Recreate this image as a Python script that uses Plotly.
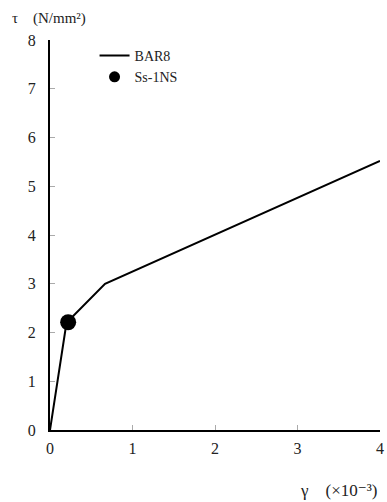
import plotly.graph_objects as go

# skeleton curve BAR8
bar8_gamma = [0, 0.2, 0.667, 4.0]
bar8_tau = [0, 2.2, 3.0, 5.52]

# response point Ss-1NS
ss_gamma = [0.22]
ss_tau = [2.21]

x_ticks = [0, 1, 2, 3, 4]
y_ticks = [0, 1, 2, 3, 4, 5, 6, 7, 8]

serif = "Liberation Serif, DejaVu Serif, serif"

fig = go.Figure()
fig.add_trace(go.Scatter(
    x=bar8_gamma, y=bar8_tau, mode='lines', name='BAR8',
    line=dict(color='black', width=2)))
fig.add_trace(go.Scatter(
    x=ss_gamma, y=ss_tau, mode='markers', name='Ss-1NS',
    marker=dict(color='black', size=16), showlegend=False))
# legend entry with the smaller marker used in the key
fig.add_trace(go.Scatter(
    x=[None], y=[None], mode='markers', name='Ss-1NS',
    marker=dict(color='black', size=11)))

fig.update_layout(
    width=387, height=502,
    margin=dict(l=50, r=7, t=40, b=72),
    plot_bgcolor='white', paper_bgcolor='white',
    font=dict(family=serif, size=16, color='#222'),
    showlegend=True,
    legend=dict(x=0.135, y=1.0, xanchor='left', yanchor='top',
                bgcolor='rgba(0,0,0,0)', tracegroupgap=0,
                font=dict(size=14), itemwidth=30),
    xaxis=dict(range=[0, 4], tickvals=x_ticks, showgrid=False, zeroline=False,
               showline=True, linecolor='black', linewidth=2,
               ticks='inside', ticklen=5, tickcolor='#aaa',
               ticklabelstandoff=3,
               automargin=False, ticklabeloverflow='allow'),
    yaxis=dict(range=[0, 8], tickvals=y_ticks, showgrid=False, zeroline=False,
               showline=True, linecolor='black', linewidth=2,
               ticks='inside', ticklen=5, tickcolor='#aaa',
               ticklabelstandoff=9,
               automargin=False, ticklabeloverflow='allow'),
    annotations=[
        dict(text='τ\u2003(N/mm²)', xref='paper', yref='paper',
             x=-0.12, y=1.056, xanchor='left', yanchor='middle',
             showarrow=False, font=dict(size=15)),
        dict(text='γ\u2003(×10⁻³)', xref='paper', yref='paper',
             x=1.0, y=-0.156, xanchor='right', yanchor='middle',
             showarrow=False, font=dict(size=17)),
    ],
)

# drop the default page margin so the figure sits at the window's corner
fig.write_html("out.html", config={'displayModeBar': False},
               post_script="document.body.style.margin='0';")
